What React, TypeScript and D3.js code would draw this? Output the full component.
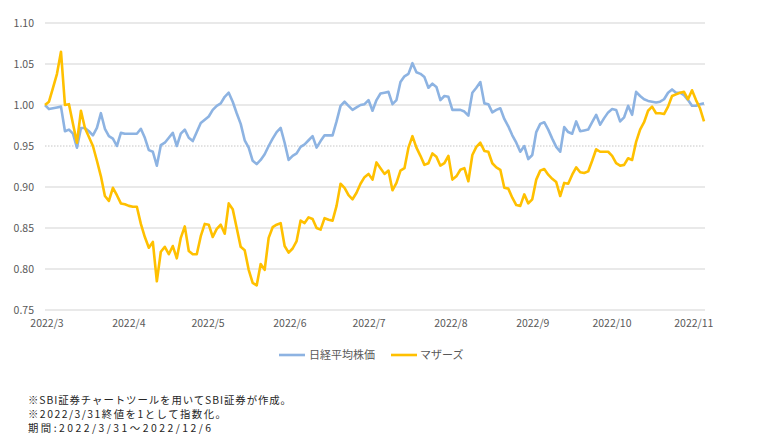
import React from "react";
import * as d3 from "d3";

// 2022/3/31 = 1 として指数化 (値は画像から読み取り)
const nikkei = [
  1.0, 0.995, 0.996, 0.997, 0.998, 0.968, 0.97, 0.965, 0.948, 0.972,
  0.972, 0.968, 0.963, 0.972, 0.99, 0.971, 0.962, 0.959, 0.95, 0.966,
  0.965, 0.965, 0.965, 0.965, 0.971, 0.96, 0.945, 0.943, 0.926, 0.951,
  0.954, 0.96, 0.966, 0.95, 0.965, 0.97, 0.96, 0.956, 0.967, 0.978,
  0.982, 0.986, 0.994, 0.999, 1.002, 1.01, 1.015, 1.004, 0.99, 0.977,
  0.957, 0.948, 0.932, 0.928, 0.933, 0.94, 0.95, 0.959, 0.967, 0.972,
  0.954, 0.933, 0.938, 0.941, 0.949, 0.952, 0.957, 0.962, 0.948, 0.956,
  0.963, 0.963, 0.963, 0.98, 0.999, 1.004, 0.999, 0.994, 0.997, 1.0,
  1.001, 1.006, 0.993, 1.006, 1.014, 1.015, 1.016, 1.001, 1.006, 1.028,
  1.035, 1.038, 1.051, 1.04, 1.038, 1.034, 1.021, 1.026, 1.022, 1.006,
  1.011, 1.01, 0.994, 0.994, 0.994, 0.992, 0.987, 1.015, 1.021, 1.028,
  1.002, 1.001, 0.991, 0.994, 0.996, 0.983, 0.974, 0.963, 0.954, 0.943,
  0.95, 0.934, 0.939, 0.967, 0.977, 0.979, 0.97, 0.959, 0.949, 0.943,
  0.973, 0.967, 0.965, 0.98, 0.968, 0.969, 0.97, 0.979, 0.988, 0.976,
  0.984, 0.991, 0.995, 0.994, 0.98, 0.985, 0.999, 0.988, 1.016, 1.011,
  1.007, 1.005, 1.004, 1.003, 1.004, 1.007, 1.015, 1.019, 1.015, 1.015,
  1.012, 1.006, 0.999, 0.999, 1.001, 1.002,
];

const mothers = [
  1.0, 1.004, 1.021, 1.038, 1.065, 1.0, 1.001, 0.977, 0.954, 0.993,
  0.972, 0.961, 0.95, 0.932, 0.913, 0.889, 0.883, 0.899, 0.89, 0.88,
  0.879, 0.877, 0.876, 0.876, 0.855, 0.839, 0.826, 0.833, 0.785, 0.821,
  0.827, 0.818, 0.828, 0.813, 0.838, 0.852, 0.822, 0.818, 0.818, 0.84,
  0.855, 0.854, 0.839, 0.849, 0.854, 0.843, 0.88, 0.873, 0.85, 0.827,
  0.823, 0.799, 0.783, 0.78, 0.806, 0.799, 0.838, 0.851, 0.854, 0.856,
  0.828, 0.82, 0.825, 0.834, 0.859, 0.856, 0.863, 0.861, 0.85, 0.848,
  0.862, 0.86, 0.859, 0.877, 0.904, 0.899, 0.89, 0.885, 0.893, 0.904,
  0.912, 0.916, 0.909, 0.93, 0.923, 0.916, 0.92, 0.896, 0.905, 0.92,
  0.923, 0.948, 0.962, 0.948, 0.938, 0.927, 0.929, 0.941, 0.937, 0.926,
  0.929, 0.938, 0.909, 0.913, 0.921, 0.923, 0.907, 0.939, 0.949, 0.954,
  0.944, 0.943, 0.929, 0.924, 0.921, 0.899, 0.898, 0.887, 0.878, 0.877,
  0.891, 0.88, 0.885, 0.909, 0.92, 0.922, 0.915, 0.91, 0.906, 0.889,
  0.905, 0.904, 0.915, 0.924, 0.918, 0.917, 0.919, 0.932, 0.946, 0.943,
  0.943, 0.943, 0.938, 0.929, 0.926, 0.927, 0.935, 0.933, 0.955, 0.97,
  0.979, 0.993, 0.998, 0.99, 0.99, 0.989, 0.998, 1.011, 1.013, 1.015,
  1.016, 1.007, 1.018, 1.006, 0.996, 0.98,
];

const monthLabels = [
  "2022/3", "2022/4", "2022/5", "2022/6", "2022/7",
  "2022/8", "2022/9", "2022/10", "2022/11",
];
const yTicks = [0.75, 0.8, 0.85, 0.9, 0.95, 1.0, 1.05, 1.1];

const seriesNames = ["日経平均株価", "マザーズ"];
const notes = [
  "※SBI証券チャートツールを用いてSBI証券が作成。",
  "※2022/3/31終値を1として指数化。",
  "期間:2022/3/31～2022/12/6",
];
const noteWidths = [263, 198, 183];

const W = 760;
const H = 441;
const FONT = "'Noto Sans CJK JP', 'Noto Sans', sans-serif";
const BLUE = "#8db3e2";
const GOLD = "#ffc000";

const App: React.FC = () => {
  const left = 45;
  const right = 705;

  const y = d3.scaleLinear().domain([0.75, 1.1]).range([310, 23]);
  const x = d3
    .scaleLinear()
    .domain([0, nikkei.length - 1])
    .range([left, right - 1]);

  const parseMonth = d3.timeParse("%Y/%m");
  const xMonth = d3
    .scaleTime()
    .domain([new Date(2022, 2, 1), new Date(2022, 10, 6)])
    .range([left, right]);

  const line = d3
    .line<number>()
    .x((_, i) => x(i))
    .y((d) => y(d))
    .curve(d3.curveLinear);

  return (
    <svg
      width={W}
      height={H}
      style={{ position: "absolute", left: 0, top: 0, background: "#fff" }}
      fontFamily={FONT}
    >
      {yTicks.map((t) => {
        const dotted = Math.abs(t - 0.95) < 1e-6;
        return (
          <g key={t}>
            <line
              x1={left}
              x2={right}
              y1={y(t)}
              y2={y(t)}
              stroke={dotted ? "#b8b8b8" : "#e2e2e2"}
              strokeWidth={dotted ? 0.8 : 1.4}
              strokeDasharray={dotted ? "1.5,1.5" : undefined}
            />
            <text
              x={34}
              y={y(t)}
              dy="0.35em"
              textAnchor="end"
              fontSize={10.5}
              fill="#595959"
            >
              {t.toFixed(2)}
            </text>
          </g>
        );
      })}

      {monthLabels.map((m) => (
        <text
          key={m}
          x={xMonth(parseMonth(m) as Date) + 2}
          y={327}
          textAnchor="middle"
          fontSize={10.5}
          fill="#595959"
        >
          {m}
        </text>
      ))}

      <path
        d={line(nikkei) ?? ""}
        fill="none"
        stroke={BLUE}
        strokeWidth={2.6}
        strokeLinejoin="round"
      />
      <path
        d={line(mothers) ?? ""}
        fill="none"
        stroke={GOLD}
        strokeWidth={2.6}
        strokeLinejoin="round"
      />

      <g fontSize={11} fill="#595959">
        <line x1={279} x2={305} y1={355} y2={355} stroke={BLUE} strokeWidth={2.6} />
        <text x={309} y={355} dy="0.35em">
          {seriesNames[0]}
        </text>
        <line x1={391} x2={417} y1={355} y2={355} stroke={GOLD} strokeWidth={2.6} />
        <text x={420} y={355} dy="0.35em">
          {seriesNames[1]}
        </text>
      </g>

      <g fontSize={10.4} fill="#262626">
        {notes.map((n, i) => (
          <text
            key={i}
            x={28}
            y={400 + i * 14}
            dy="0.35em"
            textLength={noteWidths[i]}
            lengthAdjust="spacing"
          >
            {n}
          </text>
        ))}
      </g>
    </svg>
  );
};

export default App;
